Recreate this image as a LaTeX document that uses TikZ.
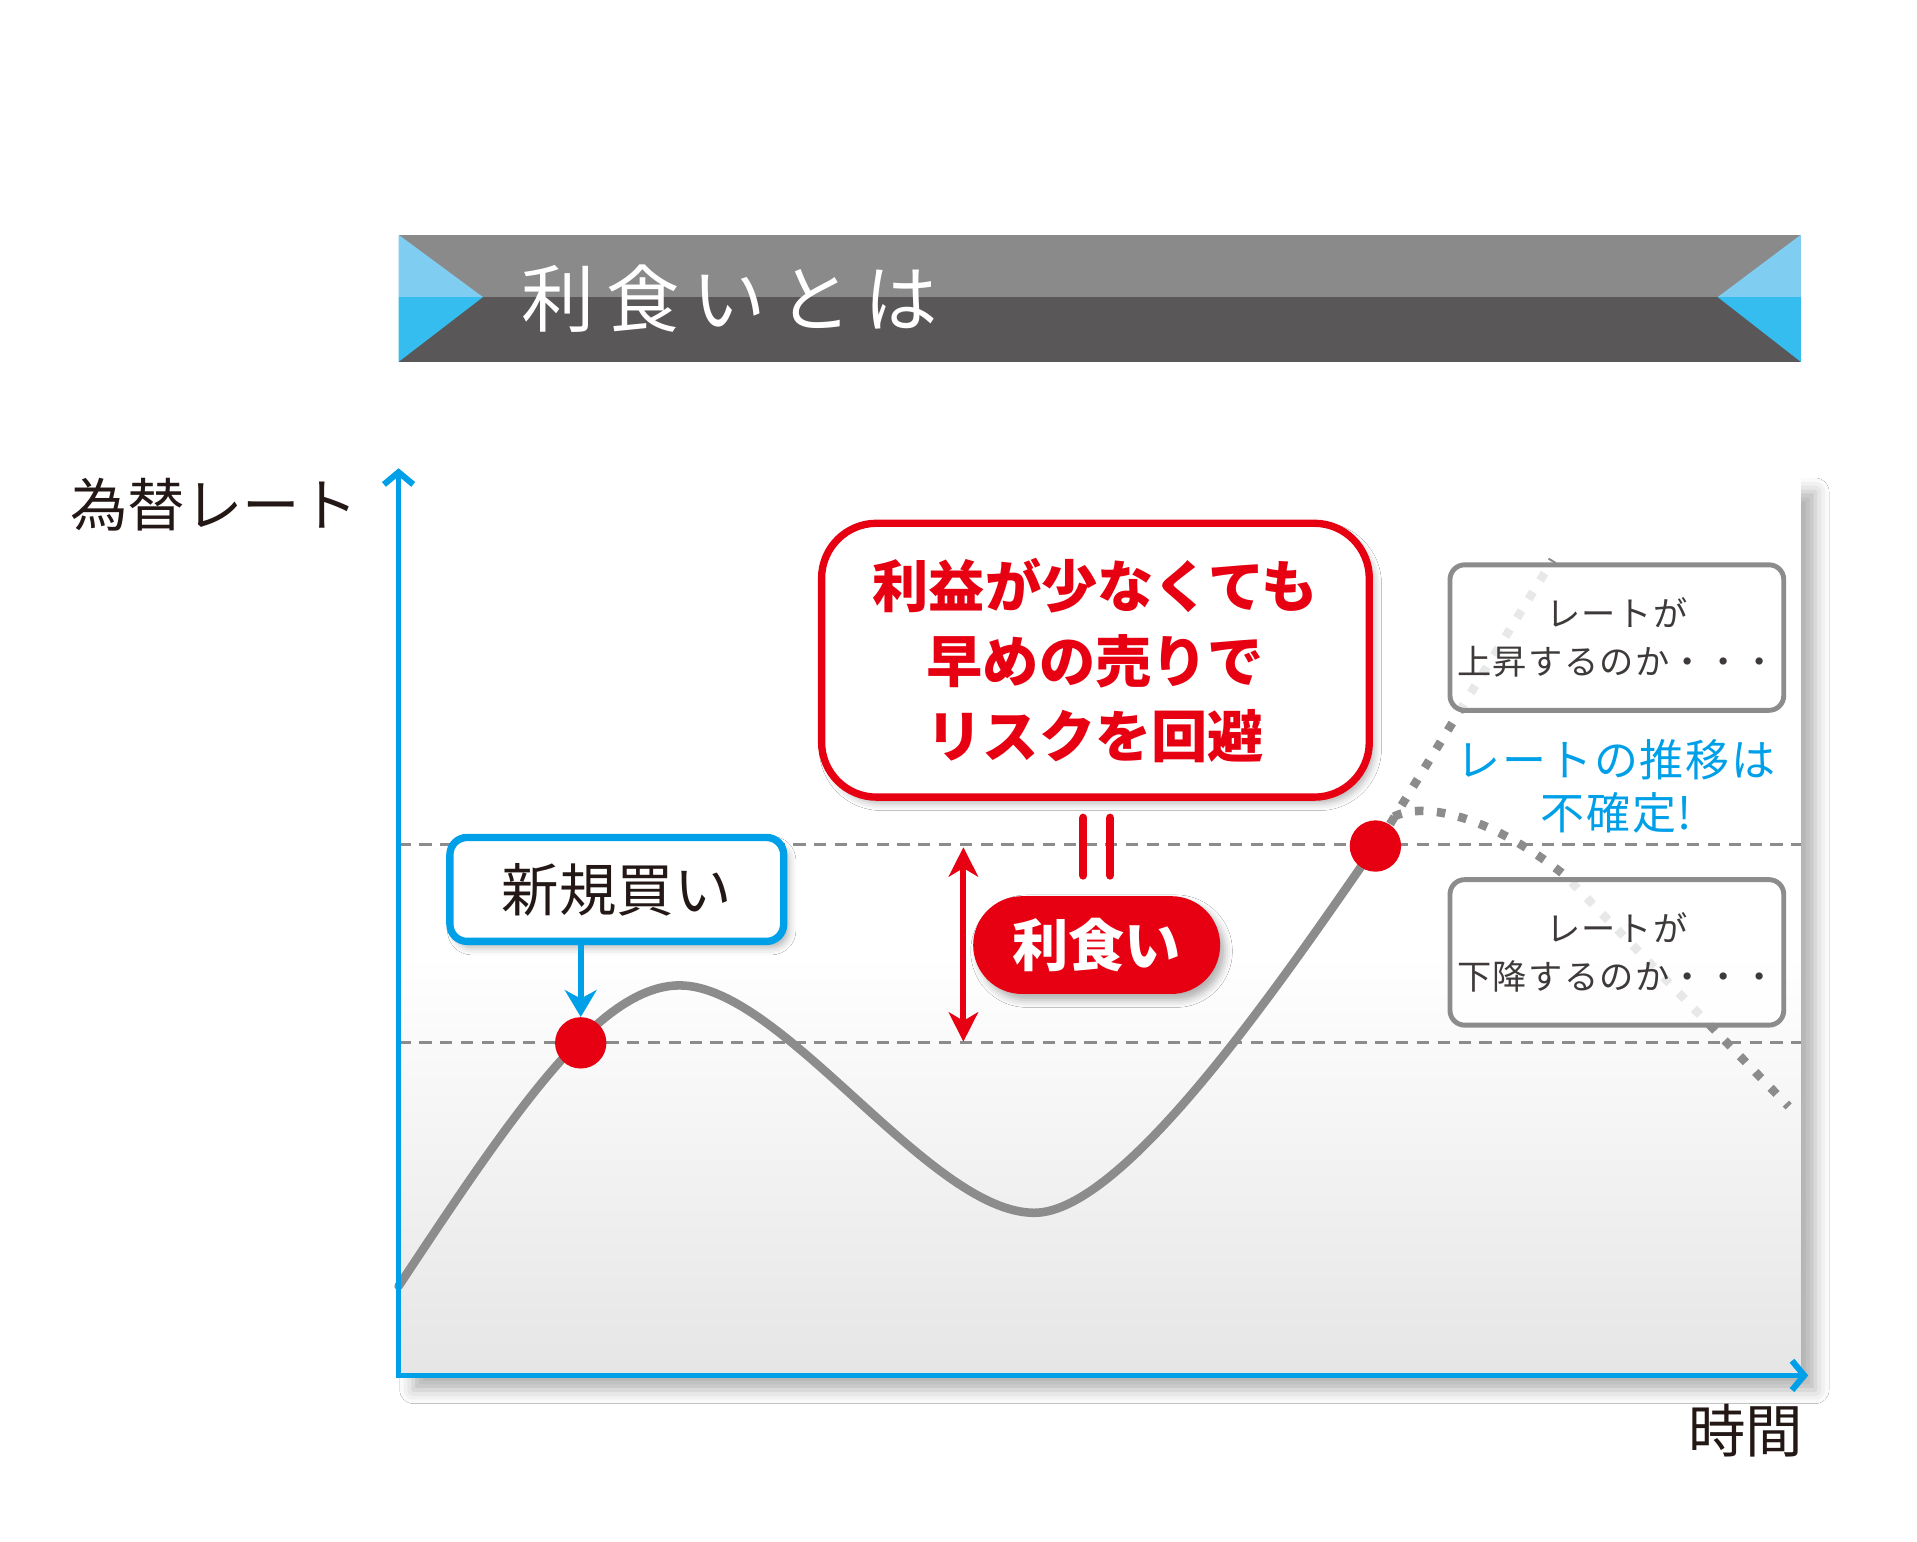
\documentclass[tikz,border=0pt]{standalone}
\usepackage{fontspec}
\newfontfamily\jp{Noto Sans CJK JP}
\newfontfamily\jptitle[LetterSpace=17]{Noto Sans CJK JP}
\newfontfamily\jpbox[LetterSpace=4]{Noto Sans CJK JP}
\usetikzlibrary{arrows.meta,shadows.blur,calc}
\definecolor{axisblue}{HTML}{00A0E9}
\definecolor{jpred}{HTML}{E60012}
\definecolor{curvegray}{HTML}{8C8C8C}
\definecolor{textdark}{HTML}{231815}
\definecolor{boxtext}{HTML}{3E3A39}
\definecolor{bantop}{HTML}{8A8A8A}
\definecolor{banbot}{HTML}{595757}
\definecolor{tritop}{HTML}{80CDF2}
\definecolor{tribot}{HTML}{36BDEF}
\tikzset{
  softshadow/.style={blur shadow={shadow xshift=4pt,shadow yshift=-5pt,shadow blur radius=6pt,shadow opacity=30}},
  panelshadow/.style={blur shadow={shadow xshift=12pt,shadow yshift=-12pt,shadow blur radius=11pt,shadow opacity=30}},
  dashline/.style={draw=curvegray,line width=2.5pt,dash pattern=on 10pt off 7pt},
  curveline/.style={draw=curvegray,line width=7pt,line cap=round},
  dotline/.style={draw=curvegray,line width=7pt,dash pattern=on 7pt off 11pt},
  graybox/.style={draw=curvegray,line width=4pt,fill=white,fill opacity=0.8,text opacity=1,rounded corners=12pt,
    minimum width=273pt,minimum height=119pt,align=center,text=boxtext,font=\jpbox\fontsize{28}{39}\selectfont},
  dotmark/.style={circle,fill=jpred,minimum size=42pt,inner sep=0pt},
  axisline/.style={draw=axisblue,line width=4pt,-{Straight Barb[length=10pt,width=24pt,line width=5pt]}},
  axislabel/.style={text=textdark,font=\jp\fontsize{47}{56}\selectfont,inner sep=0pt},
}
\begin{document}
\begin{tikzpicture}[x=1pt,y=-1pt]
\useasboundingbox (0,0) rectangle (1568,1261);
\fill[white] (0,0) rectangle (1568,1261);
% banner
\fill[bantop] (326,192) rectangle (1473,243);
\fill[banbot] (326,243) rectangle (1473,296);
\fill[tritop] (326,192) -- (395,243) -- (326,243) -- cycle;
\fill[tribot] (326,243) -- (395,243) -- (326,296) -- cycle;
\fill[tritop] (1473,192) -- (1405,243) -- (1473,243) -- cycle;
\fill[tribot] (1473,243) -- (1405,243) -- (1473,296) -- cycle;
\node[anchor=west,text=white,font=\jptitle\fontsize{60}{60}\selectfont,inner sep=0pt] (title) at (426,244) {利食いとは};
% panel
\path[panelshadow,fill=white] (326,390) rectangle (1473,1125);
\shade[top color=white,bottom color=black!10] (326,780) rectangle (1473,1125);
% dashed levels
\draw[dashline] (326,691) -- (1473,691);
\draw[dashline] (326,853) -- (1473,853);
% curve
\draw[curveline] (326,1052) .. controls (420,910) and (490,806) .. (556,806)
  .. controls (640,806) and (760,992) .. (846,992)
  .. controls (920,992) and (1050,800) .. (1125,692);
% dotted futures
\draw[dotline] (1137,674) -- (1270,458);
\draw[dotline] (1140,668) .. controls (1165,655) and (1220,668) .. (1280,716) -- (1463,905);
% axes
\draw[axisline] (326,1127) -- (326,383);
\draw[axisline] (324,1125) -- (1479,1125);
\node[axislabel] (ylab) at (175,413) {為替レート};
\node[axislabel] (xlab) at (1428,1170) {時間};
% dots
\node[dotmark] (dot1) at (475,853) {};
\node[dotmark] (dot2) at (1125,692) {};
% gray boxes
\node[graybox] (up) at (1322.5,521.5) {レートが\\上昇するのか・・・};
\node[graybox] (down) at (1322.5,779) {レートが\\下降するのか・・・};
\node[align=center,text=axisblue,font=\jpbox\fontsize{36}{43}\selectfont] (uncert) at (1322,643) {レートの推移は\\不確定!};
% red message
\node[softshadow,draw=jpred,line width=6pt,fill=white,rounded corners=45pt,minimum width=448pt,minimum height=224pt,
  align=center,text=jpred,font=\jp\bfseries\fontsize{46}{61.5}\selectfont] (msg) at (896,540) {利益が少なくても\\早めの売りで\\リスクを回避};
\draw[jpred,line width=7pt,line cap=round] (886,669) -- (886,716);
\draw[jpred,line width=7pt,line cap=round] (908,669) -- (908,716);
\node[softshadow,fill=jpred,rounded corners=40pt,minimum width=202pt,minimum height=80pt,text=white,
  font=\jp\bfseries\fontsize{46}{50}\selectfont] (pill) at (897,773) {利食い};
\coordinate (pTop) at (788,693);
\coordinate (pBot) at (788,852);
\draw[jpred,line width=5pt,{Stealth[length=24pt,width=24pt,inset=7pt]}-{Stealth[length=24pt,width=24pt,inset=7pt]}] (pTop) -- (pBot);
% blue callout
\node[softshadow,draw=axisblue,line width=6pt,fill=white,rounded corners=14pt,minimum width=273pt,minimum height=85pt,
  text=textdark,font=\jp\fontsize{47}{50}\selectfont] (buy) at (504.5,727.5) {新規買い};
\draw[axisblue,line width=5pt,-{Stealth[length=22pt,width=26pt,inset=7pt]}] (buy.south -| dot1.center) -- (dot1.north);
\end{tikzpicture}
\end{document}
